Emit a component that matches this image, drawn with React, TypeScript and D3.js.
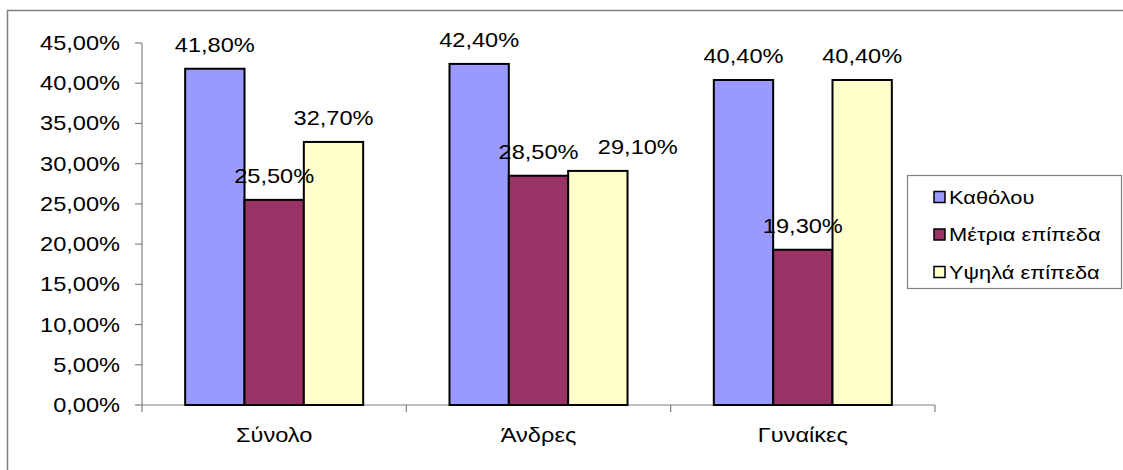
import { useEffect, useRef } from 'react';
import * as d3 from 'd3';

const W = 1123;
const H = 470;

// ── Data ─────────────────────────────────────────────────────────────────────
const categories = ['Σύνολο', 'Άνδρες', 'Γυναίκες'];
const seriesNames = ['Καθόλου', 'Μέτρια επίπεδα', 'Υψηλά επίπεδα'];
const katholou = [41.8, 42.4, 40.4];
const metria = [25.5, 28.5, 19.3];
const ypsila = [32.7, 29.1, 40.4];
const yTicks = [0, 5, 10, 15, 20, 25, 30, 35, 40, 45];

const seriesValues = [katholou, metria, ypsila];
const colors = ['#9999ff', '#993366', '#ffffcc'];

// one label was dragged sideways in the original to keep it clear of its neighbour
const labelNudge: Record<string, number> = { '2-1': 40 };

const fmt = (v: number) => v.toFixed(2).replace('.', ',') + '%';

const FONT = '"Liberation Sans", Arial, sans-serif';
const SX = 1.18; // the source chart is stretched horizontally

export default function App() {
  const svgRef = useRef<SVGSVGElement>(null);

  useEffect(() => {
    if (!svgRef.current) return;
    const svg = d3.select(svgRef.current);
    svg.selectAll('*').remove();

    const M = { left: 142, right: 935, top: 43, bottom: 405 };

    const x0 = d3.scaleBand<string>().domain(categories).range([M.left, M.right]);
    const groupW = x0.bandwidth() * (178 / 264.3);
    const x1 = d3.scaleBand<number>().domain([0, 1, 2]).range([0, groupW]);
    const y = d3.scaleLinear().domain([0, 45]).range([M.bottom, M.top]);

    const txt = (g: d3.Selection<any, any, any, any>, x: number, yy: number, s: string, size: number, anchor: string) =>
      g.append('text')
        .attr('transform', `translate(${x},${yy}) scale(${SX},1)`)
        .attr('text-anchor', anchor)
        .attr('font-family', FONT).attr('font-size', size).attr('fill', '#000')
        .text(s);

    // outer frame
    svg.append('rect')
      .attr('x', 7.5).attr('y', 10.5).attr('width', W + 20).attr('height', H + 20)
      .attr('fill', '#fff').attr('stroke', '#808080').attr('stroke-width', 1.5);

    // ── Y axis ────────────────────────────────────────────────────────────────
    const ya = svg.append('g');
    ya.append('line')
      .attr('x1', M.left).attr('x2', M.left).attr('y1', M.top).attr('y2', M.bottom)
      .attr('stroke', '#808080').attr('stroke-width', 1.2);
    yTicks.forEach(t => {
      ya.append('line')
        .attr('x1', M.left - 7).attr('x2', M.left).attr('y1', y(t)).attr('y2', y(t))
        .attr('stroke', '#808080').attr('stroke-width', 1.2);
      txt(ya, 120, y(t) + 7, fmt(t), 20, 'end');
    });

    // ── X axis ────────────────────────────────────────────────────────────────
    const xa = svg.append('g');
    xa.append('line')
      .attr('x1', M.left).attr('x2', M.right).attr('y1', M.bottom).attr('y2', M.bottom)
      .attr('stroke', '#808080').attr('stroke-width', 1.2);
    [...categories.map(c => x0(c) as number), M.right].forEach(px => {
      xa.append('line')
        .attr('x1', px).attr('x2', px).attr('y1', M.bottom).attr('y2', M.bottom + 7)
        .attr('stroke', '#808080').attr('stroke-width', 1.2);
    });
    categories.forEach(c => {
      txt(xa, (x0(c) as number) + x0.bandwidth() / 2, 442, c, 20, 'middle');
    });

    // ── Bars ──────────────────────────────────────────────────────────────────
    const bars = svg.append('g');
    const labels = svg.append('g');
    categories.forEach((c, ci) => {
      const gx = (x0(c) as number) + (x0.bandwidth() - groupW) / 2;
      seriesValues.forEach((vals, si) => {
        const v = vals[ci];
        const bx = gx + (x1(si) as number);
        bars.append('rect')
          .attr('x', bx).attr('y', y(v))
          .attr('width', x1.bandwidth()).attr('height', M.bottom - y(v))
          .attr('fill', colors[si]).attr('stroke', '#000').attr('stroke-width', 2);
        const dx = labelNudge[`${si}-${ci}`] ?? 0;
        txt(labels, bx + x1.bandwidth() / 2 + dx, y(v) - 17, fmt(v), 20, 'middle');
      });
    });

    // ── Legend ────────────────────────────────────────────────────────────────
    const lg = svg.append('g');
    lg.append('rect')
      .attr('x', 907.5).attr('y', 175.5).attr('width', 214).attr('height', 113)
      .attr('fill', '#fff').attr('stroke', '#808080').attr('stroke-width', 1.2);
    seriesNames.forEach((n, i) => {
      const cy = 197 + i * 37.5;
      lg.append('rect')
        .attr('x', 934).attr('y', cy - 5.5).attr('width', 11).attr('height', 11)
        .attr('fill', colors[i]).attr('stroke', '#000').attr('stroke-width', 1.5);
      txt(lg, 949, cy + 6.5, n, 18.5, 'start');
    });
  }, []);

  return (
    <svg ref={svgRef} width={W} height={H}
      style={{ position: 'absolute', left: 0, top: 0, background: '#fff' }} />
  );
}
